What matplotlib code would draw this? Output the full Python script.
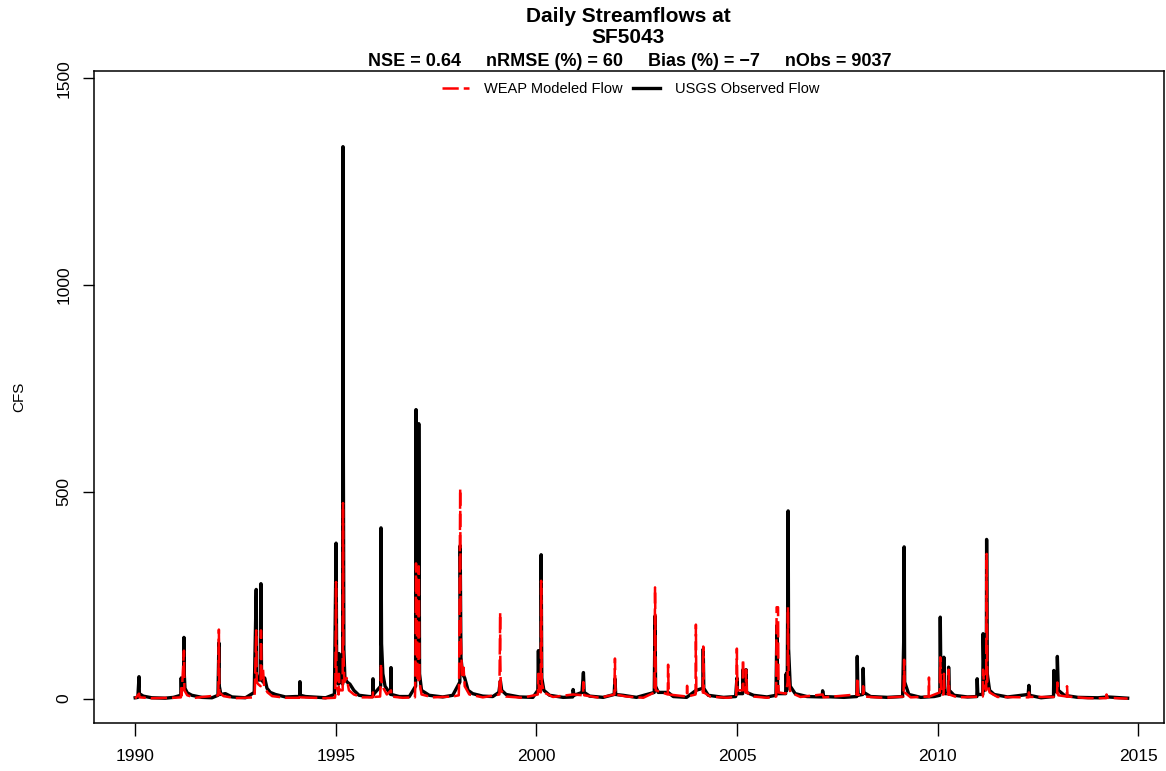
import matplotlib
matplotlib.use("Agg")
import matplotlib.pyplot as plt
import pandas as pd

plt.rcParams['font.family'] = ['Liberation Sans', 'DejaVu Sans']

# USGS observed daily flow, digitised (date, cfs)
obs_dates = [
    "1990-01-01", "1990-01-25", "1990-02-05", "1990-02-08", "1990-03-15", "1990-06-01",
    "1990-10-01", "1990-12-15", "1991-02-20", "1991-02-24", "1991-02-28", "1991-03-18",
    "1991-03-21", "1991-03-24", "1991-03-30", "1991-04-20", "1991-06-01", "1991-09-01",
    "1991-12-01", "1992-01-25", "1992-02-02", "1992-02-06", "1992-02-20", "1992-04-01",
    "1992-06-01", "1992-10-01", "1992-12-20", "1993-01-07", "1993-01-12", "1993-01-25",
    "1993-02-16", "1993-02-19", "1993-02-24", "1993-03-10", "1993-03-25", "1993-04-15",
    "1993-05-15", "1993-07-01", "1993-10-01", "1994-01-01", "1994-02-06", "1994-02-09",
    "1994-02-13", "1994-04-01", "1994-10-01", "1994-12-20", "1995-01-04", "1995-01-10",
    "1995-01-27", "1995-01-30", "1995-02-05", "1995-03-05", "1995-03-08", "1995-03-09",
    "1995-03-11", "1995-03-16", "1995-03-25", "1995-04-15", "1995-05-10", "1995-06-15",
    "1995-08-01", "1995-11-01", "1995-12-03", "1995-12-06", "1995-12-10", "1996-02-14",
    "1996-02-17", "1996-02-22", "1996-03-05", "1996-03-25", "1996-05-15", "1996-05-18",
    "1996-05-22", "1996-08-01", "1996-11-01", "1996-12-28", "1997-01-01", "1997-01-05",
    "1997-01-10", "1997-01-23", "1997-01-26", "1997-02-02", "1997-02-20", "1997-05-01",
    "1997-09-01", "1997-12-01", "1998-02-04", "1998-02-07", "1998-02-14", "1998-03-01",
    "1998-03-20", "1998-04-20", "1998-06-01", "1998-09-01", "1998-12-01", "1999-01-25",
    "1999-02-08", "1999-02-20", "1999-04-01", "1999-08-01", "1999-12-01", "2000-01-15",
    "2000-01-20", "2000-01-25", "2000-02-11", "2000-02-14", "2000-02-20", "2000-03-10",
    "2000-05-01", "2000-09-01", "2000-11-28", "2000-12-01", "2000-12-10", "2001-02-20",
    "2001-03-05", "2001-03-12", "2001-05-01", "2001-09-01", "2001-12-10", "2001-12-17",
    "2001-12-24", "2002-03-01", "2002-07-01", "2002-12-10", "2002-12-17", "2002-12-22",
    "2003-01-15", "2003-04-15", "2003-06-01", "2003-10-01", "2003-12-25", "2004-02-25",
    "2004-02-29", "2004-03-05", "2004-04-15", "2004-09-01", "2004-12-20", "2005-01-01",
    "2005-01-05", "2005-02-22", "2005-02-25", "2005-03-01", "2005-03-22", "2005-03-25",
    "2005-03-29", "2005-06-01", "2005-10-01", "2005-12-22", "2005-12-31", "2006-01-06",
    "2006-01-12", "2006-03-20", "2006-03-25", "2006-03-30", "2006-04-04", "2006-04-08",
    "2006-04-12", "2006-04-16", "2006-05-01", "2006-06-15", "2006-10-01", "2007-02-16",
    "2007-02-20", "2007-03-01", "2007-09-01", "2007-12-28", "2008-01-01", "2008-01-06",
    "2008-01-10", "2008-02-20", "2008-02-24", "2008-03-01", "2008-05-01", "2008-10-01",
    "2009-02-17", "2009-02-28", "2009-03-03", "2009-03-08", "2009-04-15", "2009-08-01",
    "2009-12-01", "2010-01-22", "2010-01-26", "2010-02-01", "2010-02-05", "2010-02-25",
    "2010-02-28", "2010-03-05", "2010-03-10", "2010-04-09", "2010-04-12", "2010-04-18",
    "2010-06-01", "2010-10-01", "2010-12-25", "2010-12-28", "2011-01-03", "2011-02-17",
    "2011-02-20", "2011-03-01", "2011-03-05", "2011-03-21", "2011-03-24", "2011-03-30",
    "2011-04-20", "2011-06-01", "2011-10-01", "2012-04-05", "2012-04-12", "2012-04-18",
    "2012-08-01", "2012-11-22", "2012-11-25", "2012-12-05", "2012-12-24", "2012-12-27",
    "2013-01-05", "2013-03-01", "2013-07-01", "2014-01-01", "2014-04-01", "2014-09-28",
]
obs_cfs = [
    2, 3, 53, 12, 6, 2,
    1, 3, 8, 50, 20, 25,
    148, 60, 25, 14, 8, 3,
    2, 8, 135, 30, 10, 12,
    4, 2, 15, 264, 60, 45,
    45, 278, 70, 40, 50, 25,
    15, 10, 4, 5, 5, 41,
    8, 5, 2, 10, 376, 40,
    35, 109, 45, 35, 1335, 1090,
    607, 120, 50, 40, 35, 20,
    8, 5, 5, 48, 10, 30,
    413, 133, 60, 30, 10, 75,
    10, 5, 5, 30, 699, 200,
    60, 60, 665, 60, 20, 8,
    4, 8, 40, 370, 99, 60,
    50, 20, 12, 6, 5, 15,
    43, 20, 10, 4, 3, 20,
    116, 30, 30, 348, 50, 20,
    8, 3, 4, 22, 8, 15,
    63, 15, 6, 3, 10, 48,
    10, 8, 3, 15, 200, 30,
    15, 15, 5, 3, 20, 25,
    120, 25, 8, 3, 5, 50,
    12, 12, 70, 20, 20, 70,
    15, 8, 4, 8, 177, 30,
    12, 12, 60, 20, 40, 245,
    454, 120, 30, 12, 5, 4,
    19, 5, 3, 5, 102, 30,
    8, 10, 73, 15, 5, 3,
    5, 153, 367, 40, 10, 3,
    5, 8, 197, 40, 15, 15,
    100, 30, 12, 12, 76, 20,
    8, 4, 5, 48, 10, 10,
    157, 40, 20, 30, 385, 60,
    20, 10, 4, 10, 32, 8,
    2, 5, 68, 20, 15, 102,
    20, 8, 3, 2, 4, 1,
]

# WEAP modeled daily flow, digitised (date, cfs)
mod_dates = [
    "1990-01-01", "1990-02-05", "1990-02-10", "1990-06-01", "1990-12-15", "1991-02-21",
    "1991-02-24", "1991-02-28", "1991-03-21", "1991-03-25", "1991-04-20", "1991-07-01",
    "1992-01-28", "1992-02-02", "1992-02-06", "1992-03-15", "1992-07-01", "1992-12-22",
    "1992-12-25", "1993-01-07", "1993-01-12", "1993-01-25", "1993-02-16", "1993-02-19",
    "1993-02-25", "1993-03-10", "1993-03-20", "1993-04-20", "1993-06-01", "1993-10-01",
    "1994-02-06", "1994-02-09", "1994-02-15", "1994-10-01", "1994-12-25", "1994-12-28",
    "1995-01-04", "1995-01-08", "1995-01-27", "1995-01-30", "1995-02-05", "1995-03-05",
    "1995-03-08", "1995-03-12", "1995-03-20", "1995-04-10", "1995-05-01", "1995-06-15",
    "1995-09-01", "1995-12-03", "1995-12-06", "1995-12-10", "1996-02-09", "1996-02-12",
    "1996-02-17", "1996-02-22", "1996-03-10", "1996-04-10", "1996-05-18", "1996-05-22",
    "1996-09-01", "1996-12-22", "1996-12-25", "1997-01-01", "1997-01-10", "1997-01-14",
    "1997-01-23", "1997-01-26", "1997-02-02", "1997-02-20", "1997-06-01", "1997-12-01",
    "1998-01-25", "1998-01-28", "1998-02-07", "1998-02-12", "1998-02-25", "1998-03-10",
    "1998-03-20", "1998-05-01", "1998-09-01", "1999-01-30", "1999-02-06", "1999-02-07",
    "1999-02-12", "1999-04-01", "1999-09-01", "2000-01-15", "2000-01-20", "2000-01-25",
    "2000-02-11", "2000-02-14", "2000-02-19", "2000-03-10", "2000-06-01", "2000-12-01",
    "2001-03-02", "2001-03-05", "2001-03-12", "2001-08-01", "2001-12-12", "2001-12-17",
    "2001-12-22", "2002-04-01", "2002-09-01", "2002-12-12", "2002-12-17", "2002-12-19",
    "2002-12-24", "2003-04-12", "2003-04-15", "2003-04-20", "2003-10-02", "2003-10-05",
    "2003-10-08", "2003-12-21", "2003-12-24", "2003-12-28", "2004-02-25", "2004-02-29",
    "2004-03-05", "2004-05-01", "2004-10-01", "2004-12-25", "2004-12-31", "2005-01-05",
    "2005-02-22", "2005-02-25", "2005-03-01", "2005-03-22", "2005-03-25", "2005-04-01",
    "2005-06-01", "2005-10-01", "2005-12-24", "2005-12-28", "2006-01-10", "2006-01-14",
    "2006-03-20", "2006-03-28", "2006-04-07", "2006-04-10", "2006-04-16", "2006-05-01",
    "2006-08-01", "2007-02-20", "2007-03-01", "2007-12-28", "2008-01-01", "2008-01-06",
    "2008-02-21", "2008-02-24", "2008-03-01", "2008-09-01", "2009-02-25", "2009-02-28",
    "2009-03-03", "2009-03-08", "2009-05-01", "2009-10-12", "2009-10-15", "2009-10-18",
    "2010-01-22", "2010-01-26", "2010-02-01", "2010-02-05", "2010-02-25", "2010-02-28",
    "2010-03-05", "2010-04-09", "2010-04-12", "2010-04-18", "2010-07-01", "2011-02-17",
    "2011-02-20", "2011-03-01", "2011-03-20", "2011-03-24", "2011-03-30", "2011-04-20",
    "2011-07-01", "2012-04-09", "2012-04-12", "2012-04-18", "2012-12-24", "2012-12-27",
    "2013-01-05", "2013-03-22", "2013-03-25", "2013-03-30", "2013-10-01", "2014-03-17",
    "2014-03-20", "2014-03-25", "2014-09-28",
]
mod_cfs = [
    0, 12, 3, 1, 2, 3,
    30, 8, 116, 20, 8, 2,
    8, 167, 15, 6, 1, 3,
    20, 165, 40, 35, 30, 165,
    50, 70, 30, 15, 6, 2,
    2, 10, 3, 1, 2, 10,
    282, 30, 10, 60, 20, 20,
    473, 120, 40, 50, 20, 10,
    3, 3, 15, 4, 5, 20,
    85, 40, 25, 10, 20, 5,
    2, 3, 30, 327, 150, 40,
    40, 320, 40, 10, 3, 5,
    8, 40, 508, 150, 50, 75,
    30, 10, 3, 10, 208, 100,
    20, 5, 2, 10, 60, 20,
    15, 285, 40, 15, 4, 10,
    8, 40, 8, 2, 10, 97,
    10, 5, 2, 15, 269, 220,
    20, 10, 82, 10, 5, 31,
    5, 10, 179, 15, 15, 126,
    15, 5, 2, 4, 121, 20,
    20, 95, 25, 15, 70, 15,
    5, 2, 5, 221, 221, 15,
    12, 20, 40, 221, 60, 15,
    4, 10, 3, 10, 51, 10,
    5, 30, 5, 2, 5, 40,
    94, 15, 3, 5, 51, 5,
    15, 100, 30, 10, 10, 60,
    20, 10, 70, 10, 3, 5,
    70, 30, 20, 350, 40, 15,
    4, 3, 15, 4, 4, 39,
    8, 5, 30, 5, 1, 1,
    10, 2, 0,
]

year_ticks = [1990, 1995, 2000, 2005, 2010, 2015]
y_ticks = [0, 500, 1000, 1500]

obs_t = pd.to_datetime(obs_dates)
mod_t = pd.to_datetime(mod_dates)

fig = plt.figure(figsize=(11.66, 7.71), dpi=100)
ax = fig.add_axes([94 / 1166, 48 / 771, 1070 / 1166, 652 / 771])

ax.plot(obs_t, obs_cfs, color="black", lw=2.4, label="USGS Observed Flow", zorder=2)
ax.plot(mod_t, mod_cfs, color="red", lw=1.8, dashes=(6.5, 2.0),
        label="WEAP Modeled Flow", zorder=3)

ax.set_xlim(pd.Timestamp("1988-12-22"), pd.Timestamp("2015-08-25"))
ax.set_ylim(-59, 1518)

ax.set_xticks([pd.Timestamp(f"{y}-01-01") for y in year_ticks])
ax.set_xticklabels([str(y) for y in year_ticks], fontsize=12.5)
ax.set_yticks(y_ticks)
ax.set_yticklabels([str(v) for v in y_ticks], fontsize=12.5, rotation=90, va="center")
ax.tick_params(axis="x", length=9.5, width=1, pad=9)
ax.tick_params(axis="y", length=8, width=1, pad=8)
for s in ax.spines.values():
    s.set_linewidth(1.1)

fig.text(19 / 1166, 1 - 397 / 771, "CFS", rotation=90, ha="center", va="center", fontsize=11)

fig.text(0.5385, 1 - 22 / 771, "Daily Streamflows at", ha="center", va="baseline",
         fontsize=15, fontweight="bold")
fig.text(0.5385, 1 - 43 / 771, "SF5043", ha="center", va="baseline",
         fontsize=15, fontweight="bold")
fig.text(630 / 1166, 1 - 66 / 771,
         "NSE = 0.64     nRMSE (%) = 60     Bias (%) = \u22127     nObs = 9037",
         ha="center", va="baseline", fontsize=13, fontweight="bold")

handles, labels = ax.get_legend_handles_labels()
ax.legend(handles[::-1], labels[::-1], loc="center", bbox_to_anchor=(0.5014, 0.972),
          ncol=2, frameon=False, fontsize=10.5, handlelength=1.9, handletextpad=1.0,
          columnspacing=0.7, borderpad=0)

fig.savefig("out.png", dpi=100)
